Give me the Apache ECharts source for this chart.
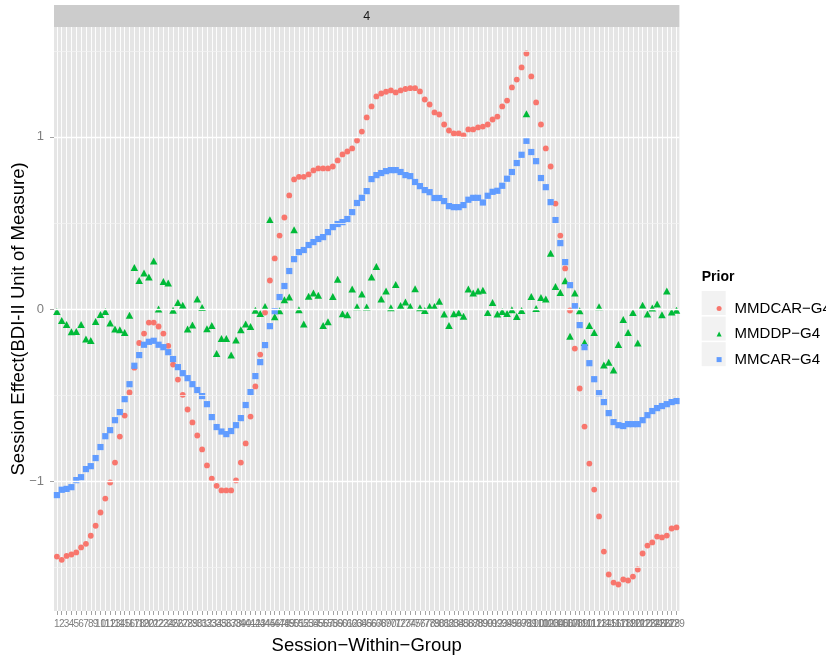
<!DOCTYPE html>
<html>
<head>
<meta charset="utf-8">
<script src="https://cdn.jsdelivr.net/npm/echarts@6/dist/echarts.min.js"></script>
<style>
html,body{margin:0;padding:0;background:#fff;}
#chart{width:826px;height:657px;}
</style>
</head>
<body>
<div id="chart"></div>
<script>
// ---- data ----
var sessions = [];
for (var k = 1; k <= 129; k++) sessions.push(String(k));

var seriesNames = ['MMDCAR\u2212G4', 'MMDDP\u2212G4', 'MMCAR\u2212G4'];

var mmdcarG4 = [-1.437,-1.456,-1.433,-1.425,-1.413,-1.384,-1.363,-1.316,-1.258,-1.181,
-1.100,-1.007,-0.891,-0.740,-0.618,-0.484,-0.340,-0.197,-0.142,-0.078,
-0.078,-0.101,-0.142,-0.213,-0.322,-0.409,-0.498,-0.583,-0.658,-0.734,
-0.815,-0.908,-0.984,-1.026,-1.053,-1.053,-1.053,-0.995,-0.891,-0.780,
-0.624,-0.449,-0.264,-0.020,0.166,0.294,0.427,0.532,0.660,0.753,
0.768,0.768,0.782,0.805,0.817,0.817,0.817,0.828,0.863,0.898,
0.915,0.933,0.979,1.031,1.113,1.177,1.235,1.252,1.262,1.270,
1.258,1.270,1.278,1.283,1.283,1.264,1.217,1.188,1.142,1.130,
1.072,1.037,1.020,1.020,1.008,1.043,1.043,1.055,1.060,1.072,
1.101,1.118,1.177,1.211,1.287,1.333,1.403,1.484,1.351,1.200,
1.072,0.933,0.828,0.613,0.427,0.236,-0.008,-0.229,-0.461,-0.682,
-0.897,-1.048,-1.204,-1.408,-1.541,-1.588,-1.599,-1.570,-1.576,-1.553,
-1.512,-1.419,-1.373,-1.355,-1.321,-1.326,-1.315,-1.274,-1.268];

var mmddpG4 = [-0.014,-0.066,-0.089,-0.132,-0.130,-0.089,-0.174,-0.182,-0.072,-0.031,
-0.014,-0.081,-0.116,-0.120,-0.136,-0.035,0.242,0.166,0.209,0.186,
0.280,0.000,0.160,0.151,-0.006,0.038,0.023,-0.116,-0.093,0.058,
0.009,-0.114,-0.095,-0.258,-0.171,-0.171,-0.267,-0.180,-0.120,-0.087,
-0.101,-0.006,-0.026,0.015,0.519,-0.045,-0.010,0.054,0.070,0.461,
-0.004,-0.087,0.075,0.093,0.081,-0.095,-0.074,0.073,0.174,-0.027,
-0.033,0.116,0.013,0.087,0.012,0.186,0.247,0.058,0.105,0.008,
0.143,0.021,0.041,0.015,0.118,0.008,-0.008,0.015,0.015,0.046,
-0.029,-0.095,-0.027,-0.021,-0.041,0.116,0.093,0.105,0.110,-0.020,
0.038,-0.029,-0.014,-0.026,-0.004,-0.043,-0.008,1.134,0.073,0.003,
0.067,0.058,0.325,0.131,0.096,0.165,-0.157,0.093,-0.010,-0.194,
-0.095,-0.136,0.013,-0.325,-0.308,-0.354,-0.206,-0.060,-0.136,-0.020,
-0.197,0.023,-0.029,0.006,0.029,-0.033,0.105,-0.017,-0.006];

var mmcarG4 = [-1.080,-1.049,-1.044,-1.034,-0.993,-0.976,-0.929,-0.912,-0.865,-0.801,
-0.738,-0.703,-0.645,-0.598,-0.523,-0.436,-0.329,-0.267,-0.207,-0.190,
-0.184,-0.207,-0.221,-0.250,-0.290,-0.337,-0.372,-0.401,-0.436,-0.470,
-0.505,-0.552,-0.627,-0.685,-0.711,-0.726,-0.708,-0.674,-0.633,-0.557,
-0.482,-0.389,-0.308,-0.209,-0.099,-0.012,0.070,0.134,0.221,0.290,
0.331,0.343,0.372,0.389,0.407,0.418,0.447,0.476,0.494,0.505,
0.523,0.563,0.616,0.646,0.685,0.755,0.778,0.790,0.801,0.807,
0.807,0.796,0.778,0.772,0.738,0.714,0.691,0.679,0.645,0.645,
0.627,0.598,0.592,0.592,0.604,0.635,0.646,0.646,0.619,0.658,
0.681,0.687,0.716,0.757,0.796,0.848,0.896,0.977,0.912,0.859,
0.761,0.708,0.621,0.517,0.383,0.273,0.139,0.017,-0.093,-0.221,
-0.314,-0.407,-0.488,-0.540,-0.604,-0.656,-0.674,-0.679,-0.668,-0.668,
-0.668,-0.645,-0.616,-0.592,-0.575,-0.563,-0.552,-0.540,-0.534];

var yTickValues = [-1, 0, 1];
var yMajorGrid = [-1, 0, 1];
var yMinorGrid = [-1.5, -0.5, 0.5, 1.5];
var facetLabel = '4';

// ---- layout / style ----
var FONT = 'Liberation Sans, Arial, Helvetica, sans-serif';
var Y_MIN = -1.753, Y_MAX = 1.638;
var PANEL_L = 54, PANEL_R = 679.4, PANEL_T = 27, PANEL_B = 611;
var W = 826, H = 657;
var STEP = (PANEL_R - PANEL_L) / (sessions.length - 1 + 1.2);
var PT_L = PANEL_L + 0.6 * STEP, PT_R = PANEL_R - 0.6 * STEP;
var COLORS = ['#F8766D', '#00BA38', '#619CFF'];

function minusFmt(v) { return v < 0 ? '\u2212' + Math.abs(v) : String(v); }

var gridLineData = [];
yMinorGrid.forEach(function (v) {
  gridLineData.push({ yAxis: v, lineStyle: { color: '#F2F2F2', width: 0.8, type: 'solid' } });
});
yMajorGrid.forEach(function (v) {
  gridLineData.push({ yAxis: v, lineStyle: { color: '#FFFFFF', width: 1.3, type: 'solid' } });
});

var chart = echarts.init(document.getElementById('chart'), null, { renderer: 'canvas' });
chart.setOption({
  animation: false,
  backgroundColor: '#FFFFFF',
  grid: [
    { left: PANEL_L, right: W - PANEL_R, top: PANEL_T, bottom: H - PANEL_B,
      show: true, backgroundColor: '#E5E5E5', borderWidth: 0 },
    { left: PT_L, right: W - PT_R, top: PANEL_T, bottom: H - PANEL_B,
      show: false }
  ],
  xAxis: [
    { gridIndex: 0, type: 'value', min: 0, max: 1, show: false },
    { gridIndex: 1, type: 'category', data: sessions, boundaryGap: false, position: 'bottom',
      axisLine: { show: false, onZero: false },
      axisTick: { show: true, interval: 0, length: 4, lineStyle: { color: '#8C8C8C', width: 0.8 } },
      splitLine: { show: true, interval: 0, lineStyle: { color: '#FFFFFF', width: 0.9 } },
      axisLabel: { interval: 0, fontFamily: FONT, fontSize: 10, color: '#7F7F7F', margin: 8 }
    }
  ],
  yAxis: [
    { gridIndex: 0, type: 'value', min: Y_MIN, max: Y_MAX,
      axisLine: { show: false, onZero: false },
      splitLine: { show: false },
      axisTick: { show: true, customValues: yTickValues, length: 4, lineStyle: { color: '#8C8C8C', width: 0.8 } },
      axisLabel: { customValues: yTickValues, formatter: minusFmt, fontFamily: FONT, fontSize: 13,
                   color: '#7F7F7F', margin: 10 }
    },
    { gridIndex: 1, type: 'value', min: Y_MIN, max: Y_MAX, show: false,
      axisLine: { onZero: false }, splitLine: { show: false } }
  ],
  legend: {
    orient: 'vertical', left: 711.6, top: 290.6, itemWidth: 5, itemHeight: 5, itemGap: 0,
    selectedMode: false,
    textStyle: { fontFamily: FONT, fontSize: 15, color: '#000', lineHeight: 25.6, padding: [0, 0, 0, 8] },
    data: [
      { name: seriesNames[0], icon: 'circle' },
      { name: seriesNames[1], icon: 'triangle' },
      { name: seriesNames[2], icon: 'rect' }
    ]
  },
  graphic: [
    { type: 'rect', shape: { x: PANEL_L, y: 5, width: PANEL_R - PANEL_L, height: PANEL_T - 5 },
      style: { fill: '#CCCCCC' }, silent: true },
    { type: 'text', x: (PANEL_L + PANEL_R) / 2, y: 16.5,
      style: { text: facetLabel, font: '12.5px ' + FONT, fill: '#1A1A1A', textAlign: 'center', textVerticalAlign: 'middle' } },
    { type: 'text', x: (PANEL_L + PANEL_R) / 2, y: 646,
      style: { text: 'Session\u2212Within\u2212Group', font: '18.5px ' + FONT, fill: '#000', textAlign: 'center', textVerticalAlign: 'middle' } },
    { type: 'text', x: 19, y: (PANEL_T + PANEL_B) / 2, rotation: Math.PI / 2,
      style: { text: 'Session Effect(BDI-II Unit of Measure)', font: '18.5px ' + FONT, fill: '#000', textAlign: 'center', textVerticalAlign: 'middle' } },
    { type: 'text', x: 701.7, y: 277.5,
      style: { text: 'Prior', font: 'bold 14px ' + FONT, fill: '#000', textAlign: 'left', textVerticalAlign: 'middle' } },
    { type: 'rect', shape: { x: 701.7, y: 291, width: 24, height: 24 }, style: { fill: '#F2F2F2' }, z: -1, silent: true },
    { type: 'rect', shape: { x: 701.7, y: 316.6, width: 24, height: 24 }, style: { fill: '#F2F2F2' }, z: -1, silent: true },
    { type: 'rect', shape: { x: 701.7, y: 342.2, width: 24, height: 24 }, style: { fill: '#F2F2F2' }, z: -1, silent: true }
  ],
  series: [
    { type: 'line', xAxisIndex: 0, yAxisIndex: 0, data: [[0, 0], [1, 0]], symbol: 'none',
      lineStyle: { opacity: 0 }, silent: true, z: 1, legendHoverLink: false,
      markLine: { silent: true, symbol: ['none', 'none'], label: { show: false }, animation: false,
                  lineStyle: { color: '#FFFFFF', type: 'solid', width: 1.3 },
                  emphasis: { disabled: true }, data: gridLineData } },
    { name: seriesNames[0], type: 'scatter', xAxisIndex: 1, yAxisIndex: 1, data: mmdcarG4,
      symbol: 'circle', symbolSize: 5.8, itemStyle: { color: COLORS[0], opacity: 1 }, z: 3 },
    { name: seriesNames[1], type: 'scatter', xAxisIndex: 1, yAxisIndex: 1, data: mmddpG4,
      symbol: 'triangle', symbolSize: [7.5, 7], itemStyle: { color: COLORS[1], opacity: 1 }, z: 3 },
    { name: seriesNames[2], type: 'scatter', xAxisIndex: 1, yAxisIndex: 1, data: mmcarG4,
      symbol: 'rect', symbolSize: 6.2, itemStyle: { color: COLORS[2], opacity: 1 }, z: 3 }
  ]
});
</script>
</body>
</html>
